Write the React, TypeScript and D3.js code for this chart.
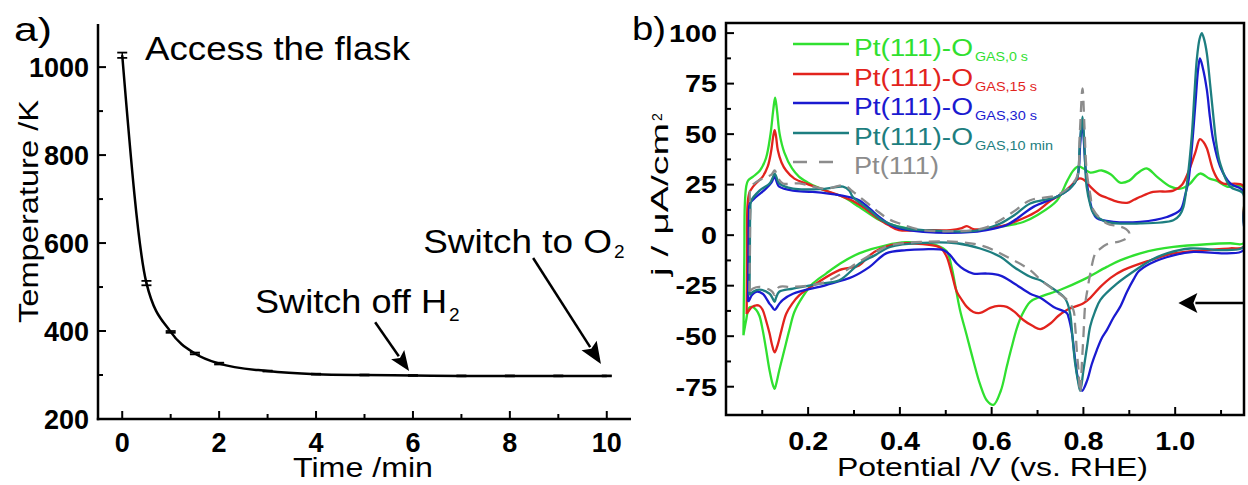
import React from 'react';
import * as d3 from 'd3';

const FONT = "'Liberation Sans', Arial, Helvetica, sans-serif";

// ---------- Panel a data ----------
const timeMin = [0, 0.5, 1, 1.5, 2, 3, 4, 5, 6, 7, 8, 9, 10];
const tempK = [1027, 509, 398, 349, 326, 309, 302, 300, 299, 298, 298, 298, 298];
const tempErr = [6, 5, 2, 2, 2, 1, 1, 1, 1, 1, 1, 1, 1];
const aXTicks = [0, 2, 4, 6, 8, 10];
const aXMinor = [1, 3, 5, 7, 9];
const aYTicks = [200, 400, 600, 800, 1000];
const aYMinor = [300, 500, 700, 900];

// ---------- Panel b data: [potential V, j µA/cm2], closed CV loops ----------
const cv0s: [number, number][] = [
  [0.059, -49.5], [0.061, -10], [0.062, 15], [0.065, 24], [0.069, 27], [0.08, 29], [0.095, 32], [0.108, 38],
  [0.118, 50], [0.124, 62], [0.128, 68], [0.132, 62], [0.138, 50], [0.148, 41], [0.165, 33], [0.18, 29],
  [0.2, 26], [0.217, 24], [0.25, 21], [0.276, 19], [0.311, 14], [0.355, 7.5], [0.385, 5], [0.414, 3.5],
  [0.45, 2], [0.5, 1.5], [0.55, 2], [0.597, 3.5], [0.64, 5], [0.669, 6.5], [0.7, 10], [0.742, 17],
  [0.765, 27], [0.778, 32], [0.789, 34], [0.8, 33], [0.815, 31], [0.84, 32], [0.86, 30], [0.88, 26],
  [0.9, 27], [0.917, 30.5], [0.938, 33], [0.96, 29], [0.99, 24], [1.011, 23], [1.03, 25], [1.054, 30.5],
  [1.075, 28], [1.09, 27], [1.113, 24], [1.148, 24], [1.149, 10], [1.149, -4],
  [1.12, -4], [1.069, -4.5], [0.996, -5.8], [0.96, -7], [0.924, -9], [0.88, -12.5], [0.851, -15.7],
  [0.8, -22], [0.75, -27], [0.706, -30.5], [0.684, -33], [0.665, -40], [0.655, -46], [0.643, -56],
  [0.633, -65], [0.62, -77], [0.604, -84], [0.59, -82], [0.575, -74], [0.56, -62], [0.545, -49],
  [0.531, -37], [0.52, -24], [0.513, -16], [0.502, -8], [0.48, -5], [0.452, -4], [0.414, -3.5],
  [0.37, -5], [0.311, -9], [0.27, -14], [0.239, -19], [0.21, -24], [0.188, -30.5], [0.17, -38],
  [0.159, -47], [0.148, -57], [0.137, -67], [0.13, -74], [0.127, -76], [0.123, -74], [0.116, -67],
  [0.108, -56], [0.101, -47], [0.094, -40], [0.087, -37], [0.078, -35.5], [0.071, -36], [0.065, -42],
  [0.059, -49.5],
];

const cv15s: [number, number][] = [
  [0.066, -39], [0.067, -10], [0.068, 15], [0.072, 21], [0.08, 24], [0.09, 26.5], [0.101, 29], [0.112, 34],
  [0.119, 41], [0.124, 49], [0.127, 52], [0.13, 49], [0.134, 42], [0.142, 36], [0.152, 32], [0.17, 28],
  [0.196, 25.5], [0.239, 22], [0.27, 19.5], [0.297, 17], [0.325, 13], [0.348, 9], [0.375, 5], [0.398, 2.5],
  [0.451, 2.5], [0.51, 2.5], [0.535, 3.5], [0.546, 4.5], [0.56, 3], [0.597, 3.5], [0.63, 5], [0.669, 8.4],
  [0.7, 12], [0.728, 17], [0.75, 20], [0.771, 24], [0.79, 28], [0.8, 27.5], [0.815, 24], [0.835, 20],
  [0.851, 18.5], [0.875, 16.5], [0.895, 16], [0.91, 17.5], [0.924, 19], [0.952, 21.4], [0.996, 22],
  [1.015, 25], [1.03, 32], [1.044, 41], [1.054, 47.5], [1.062, 46], [1.069, 43], [1.083, 32], [1.095, 27],
  [1.105, 25.5], [1.148, 24.5], [1.149, 10], [1.149, -5.8],
  [1.12, -6.5], [1.069, -7.4], [0.996, -9], [0.946, -12.4], [0.887, -17.3], [0.86, -21], [0.837, -25.6],
  [0.815, -31], [0.8, -33.7], [0.764, -37], [0.745, -40], [0.728, -43.7], [0.706, -46.5], [0.69, -45],
  [0.669, -42], [0.65, -38], [0.633, -35.5], [0.615, -35], [0.597, -36], [0.575, -38.5], [0.56, -38],
  [0.546, -35.5], [0.535, -32], [0.524, -28], [0.513, -19], [0.502, -10.7], [0.49, -6.5], [0.48, -5.4],
  [0.415, -4], [0.379, -5], [0.355, -7], [0.334, -10], [0.311, -15], [0.268, -17.3], [0.217, -24],
  [0.181, -29.7], [0.165, -34], [0.152, -39], [0.142, -47], [0.134, -54], [0.127, -58], [0.121, -54],
  [0.116, -48.7], [0.108, -42], [0.101, -37], [0.094, -35], [0.087, -34.7], [0.078, -35.5], [0.072, -37],
  [0.066, -39],
];

const cv30s: [number, number][] = [
  [0.069, -33], [0.07, -10], [0.071, 10], [0.073, 15.7], [0.087, 19], [0.108, 23], [0.12, 26], [0.127, 29],
  [0.132, 26], [0.137, 24], [0.167, 22], [0.21, 21.4], [0.268, 19.8], [0.311, 17.3], [0.335, 13],
  [0.355, 9], [0.38, 5], [0.399, 3.3], [0.451, 1.6], [0.56, 1.6], [0.6, 3], [0.633, 5], [0.66, 9],
  [0.691, 14], [0.742, 19], [0.77, 23], [0.786, 28], [0.793, 45], [0.797, 57], [0.8, 50], [0.805, 32],
  [0.81, 22], [0.82, 12], [0.829, 8.5], [0.865, 6.6], [0.924, 6.6], [0.982, 9], [1.011, 12.4], [1.022, 20],
  [1.029, 27], [1.037, 45], [1.044, 65], [1.05, 82], [1.054, 87.5], [1.06, 83], [1.069, 72], [1.076, 58],
  [1.083, 47], [1.098, 34], [1.12, 25.6], [1.148, 22], [1.149, 8], [1.149, -7.4],
  [1.113, -9], [1.04, -8.3], [0.996, -10], [0.946, -14], [0.92, -18], [0.909, -22], [0.895, -28],
  [0.88, -35.5], [0.865, -41], [0.851, -47], [0.84, -51], [0.829, -57], [0.818, -64], [0.808, -72],
  [0.797, -77], [0.79, -73], [0.786, -68.5], [0.78, -58], [0.775, -48.5], [0.768, -41], [0.764, -38.6],
  [0.735, -35.5], [0.706, -31], [0.684, -29], [0.65, -24], [0.619, -20], [0.59, -19], [0.56, -19],
  [0.54, -17], [0.524, -14], [0.51, -10], [0.495, -7.4], [0.451, -7], [0.414, -7.4], [0.37, -9],
  [0.334, -15.7], [0.297, -20.6], [0.239, -24.7], [0.167, -29], [0.145, -32], [0.137, -34], [0.127, -37],
  [0.12, -35], [0.116, -34], [0.108, -31], [0.101, -29], [0.087, -28], [0.078, -29.5], [0.072, -32],
  [0.069, -33],
];

const cv10min: [number, number][] = [
  [0.072, -29.7], [0.073, -10], [0.074, 12], [0.076, 17], [0.094, 22], [0.116, 25.6], [0.122, 28],
  [0.127, 30.5], [0.132, 28], [0.137, 25.6], [0.167, 23], [0.239, 23], [0.276, 24], [0.29, 22],
  [0.297, 19], [0.334, 12.4], [0.36, 7.5], [0.385, 5], [0.414, 3.3], [0.451, 2.5], [0.56, 2], [0.59, 3.5],
  [0.619, 5.8], [0.65, 10], [0.684, 15.7], [0.742, 19], [0.77, 23], [0.786, 28], [0.792, 45], [0.798, 58.6],
  [0.802, 45], [0.807, 24], [0.815, 15], [0.822, 10.7], [0.851, 6.6], [0.924, 5.8], [0.996, 7.4],
  [1.01, 10], [1.018, 14], [1.027, 28], [1.036, 48.6], [1.042, 70], [1.047, 86.6], [1.053, 97],
  [1.058, 100], [1.063, 97], [1.069, 90], [1.076, 75], [1.084, 57], [1.09, 45], [1.098, 35.5], [1.12, 24],
  [1.148, 20.6], [1.149, 8], [1.149, -5.8],
  [1.113, -7.4], [1.033, -6.6], [0.982, -9], [0.95, -12], [0.924, -15.7], [0.873, -24], [0.837, -32],
  [0.825, -38], [0.815, -45], [0.808, -55], [0.8, -67], [0.793, -77], [0.788, -72], [0.782, -63.5],
  [0.776, -50], [0.771, -38.8], [0.764, -33], [0.757, -30.5], [0.728, -25.6], [0.706, -22.3],
  [0.684, -20.6], [0.65, -16], [0.619, -10.7], [0.575, -6.6], [0.524, -4], [0.451, -3.8], [0.379, -5.8],
  [0.345, -10], [0.312, -14], [0.268, -22.3], [0.225, -24], [0.167, -26.4], [0.137, -28], [0.13, -31],
  [0.127, -33], [0.122, -31], [0.116, -29], [0.094, -27], [0.08, -28], [0.072, -29.7],
];

const cvPt111: [number, number][] = [
  [0.072, -28], [0.073, -10], [0.074, 12], [0.076, 24], [0.101, 28], [0.12, 30], [0.127, 32], [0.135, 28],
  [0.145, 25.6], [0.181, 25.6], [0.239, 23], [0.279, 24.7], [0.295, 22], [0.312, 19], [0.348, 12.4],
  [0.375, 8], [0.399, 5.8], [0.45, 2.5], [0.56, 2.5], [0.59, 4], [0.619, 7.4], [0.65, 12], [0.684, 17.3],
  [0.742, 19.8], [0.77, 24], [0.786, 29], [0.792, 50], [0.798, 72.6], [0.802, 55], [0.807, 32],
  [0.815, 20], [0.822, 12.4], [0.851, 5.8], [0.876, 4.5], [0.893, 3], [0.9, 1], [0.897, -1], [0.88, -3],
  [0.851, -4.5], [0.835, -7], [0.826, -9], [0.815, -19], [0.808, -28], [0.804, -34], [0.8, -50],
  [0.797, -62], [0.793, -78], [0.789, -66], [0.786, -58.6], [0.782, -45], [0.778, -37], [0.764, -32],
  [0.735, -27], [0.706, -22], [0.684, -17.3], [0.633, -10.7], [0.582, -5.4], [0.524, -3.3], [0.451, -3.3],
  [0.379, -5], [0.35, -8], [0.312, -13], [0.239, -23], [0.167, -25.6], [0.137, -25.6], [0.13, -28],
  [0.127, -29.7], [0.122, -28], [0.116, -27], [0.094, -25.6], [0.08, -26.4], [0.072, -28],
];

const seriesNames = ['GAS,0 s', 'GAS,15 s', 'GAS,30 s', 'GAS,10 min', ''];
const seriesColors = ['#30e030', '#e2231d', '#1a1ad0', '#1d7e80', '#8c8c8c'];
const seriesData = [cv0s, cv15s, cv30s, cv10min, cvPt111];
const subLens = [53, 62, 62, 78, 0];

const bXTicks = [0.2, 0.4, 0.6, 0.8, 1.0];
const bXMinor = [0.1, 0.3, 0.5, 0.7, 0.9, 1.1];
const bYTicks = [-75, -50, -25, 0, 25, 50, 75, 100];
const bYMinor = [-62.5, -37.5, -12.5, 12.5, 37.5, 62.5, 87.5];

function boldWidth(s: string, size: number) {
  let w = 0;
  for (const c of s) w += c === '.' ? 0.278 : c === '-' ? 0.333 : 0.556;
  return w * size;
}

function Txt(props: any) {
  const { x, y, size, len, anchor = 'start', weight = 'normal', fill = '#000', rotate = 0, children } = props;
  return (
    <text
      transform={`translate(${x},${y}) rotate(${rotate})`}
      fontSize={size}
      textLength={len}
      lengthAdjust={len ? 'spacingAndGlyphs' : undefined}
      textAnchor={anchor}
      fontWeight={weight}
      fill={fill}
      fontFamily={FONT}
    >
      {children}
    </text>
  );
}

function Arrow({ x1, y1, x2, y2, head = 20, half = 8, sw = 2.5 }: any) {
  const dx = x2 - x1, dy = y2 - y1;
  const L = Math.hypot(dx, dy);
  const ux = dx / L, uy = dy / L;
  const bxp = x2 - ux * head, byp = y2 - uy * head;
  const px = -uy, py = ux;
  return (
    <g>
      <line x1={x1} y1={y1} x2={bxp + ux * 2} y2={byp + uy * 2} stroke="#000" strokeWidth={sw} />
      <polygon
        points={`${x2},${y2} ${bxp + px * half},${byp + py * half} ${bxp + ux * 4},${byp + uy * 4} ${bxp - px * half},${byp - py * half}`}
        fill="#000"
      />
    </g>
  );
}

export default function App() {
  const ax = d3.scaleLinear().domain([-0.5, 10.5]).range([98, 631]);
  const ay = d3.scaleLinear().domain([200, 1098]).range([419, 24]);
  const bx = d3.scaleLinear().domain([0.021, 1.15]).range([726, 1244]);
  const by = d3.scaleLinear().domain([-89, 105]).range([415, 23]);

  const aLine = d3
    .line<number>()
    .x((_, i) => ax(timeMin[i]))
    .y((d) => ay(d))
    .curve(d3.curveMonotoneX);
  const bLine = d3
    .line<[number, number]>()
    .x((d) => bx(d[0]))
    .y((d) => by(d[1]))
    .curve(d3.curveCatmullRom.alpha(0.5));

  const axisW = 2.5;
  const legendY = [44, 74, 103, 133, 162];

  return (
    <svg width={1248} height={485} style={{ position: 'absolute', left: 0, top: 0, background: '#fff' }}>
      <defs>
        <clipPath id="clipB">
          <rect x={726} y={23} width={518} height={392} />
        </clipPath>
      </defs>
      <rect x={0} y={0} width={1248} height={485} fill="#fff" />

      {/* ================= Panel a ================= */}
      <Txt x={14} y={41} size={33} len={38}>a)</Txt>
      {/* axes */}
      <line x1={ax(-0.5)} y1={ay(1098)} x2={ax(-0.5)} y2={ay(200) + 1.2} stroke="#000" strokeWidth={axisW} />
      <line x1={ax(-0.5) - 1.2} y1={ay(200)} x2={ax(10.5)} y2={ay(200)} stroke="#000" strokeWidth={axisW} />
      {aXTicks.map((t) => (
        <g key={'axt' + t}>
          <line x1={ax(t)} x2={ax(t)} y1={ay(200)} y2={ay(200) - 8} stroke="#000" strokeWidth={2} />
          <Txt x={ax(t)} y={452} size={27} weight="bold" anchor="middle">{String(t)}</Txt>
        </g>
      ))}
      {aXMinor.map((t) => (
        <line key={'axm' + t} x1={ax(t)} x2={ax(t)} y1={ay(200)} y2={ay(200) - 5} stroke="#000" strokeWidth={2} />
      ))}
      {aYTicks.map((v) => (
        <g key={'ayt' + v}>
          <line x1={ax(-0.5)} x2={ax(-0.5) + 8} y1={ay(v)} y2={ay(v)} stroke="#000" strokeWidth={2} />
          <Txt x={89} y={ay(v) + 9.5} size={27} weight="bold" anchor="end">{String(v)}</Txt>
        </g>
      ))}
      {aYMinor.map((v) => (
        <line key={'aym' + v} x1={ax(-0.5)} x2={ax(-0.5) + 5} y1={ay(v)} y2={ay(v)} stroke="#000" strokeWidth={2} />
      ))}
      <Txt x={38} y={323} size={27} len={223} rotate={-90}>Temperature /K</Txt>
      <Txt x={293} y={477} size={27} len={140}>Time /min</Txt>

      {/* data line */}
      <path d={aLine(tempK) || ''} fill="none" stroke="#000" strokeWidth={2.5} />
      {tempK.map((v, i) => (
        <g key={'err' + i}>
          <line x1={ax(timeMin[i])} x2={ax(timeMin[i])} y1={ay(v - tempErr[i])} y2={ay(v + tempErr[i])} stroke="#000" strokeWidth={1.5} />
          <line x1={ax(timeMin[i]) - 5} x2={ax(timeMin[i]) + 5} y1={ay(v + tempErr[i])} y2={ay(v + tempErr[i])} stroke="#000" strokeWidth={1.8} />
          <line x1={ax(timeMin[i]) - 5} x2={ax(timeMin[i]) + 5} y1={ay(v - tempErr[i])} y2={ay(v - tempErr[i])} stroke="#000" strokeWidth={1.8} />
        </g>
      ))}

      {/* annotations */}
      <Txt x={ax(0.47)} y={ay(1016)} size={34} len={265}>Access the flask</Txt>
      <Txt x={ax(2.74)} y={ay(441)} size={33} len={192}>Switch off H</Txt>
      <Txt x={449} y={ay(441) + 8} size={19}>2</Txt>
      <Txt x={ax(6.21)} y={ay(577)} size={33} len={189}>Switch to O</Txt>
      <Txt x={614} y={ay(577) + 5} size={19}>2</Txt>
      <Arrow x1={ax(5.22)} y1={ay(420)} x2={ax(5.92)} y2={ay(309)} head={20} half={8} />
      <Arrow x1={ax(8.48)} y1={ay(566)} x2={ax(9.88)} y2={ay(325)} head={22} half={9} />

      {/* ================= Panel b ================= */}
      <Txt x={632} y={40} size={34} len={34}>b)</Txt>
      <g clipPath="url(#clipB)">
        {seriesData.map((d, i) => (
          <path
            key={'cv' + i}
            d={bLine(d) || ''}
            fill="none"
            stroke={seriesColors[i]}
            strokeWidth={2.3}
            strokeDasharray={i === 4 ? '11,7' : undefined}
            strokeLinejoin="round"
          />
        ))}
      </g>
      <rect x={726} y={23} width={518} height={392} fill="none" stroke="#000" strokeWidth={axisW} />
      {bXTicks.map((t) => (
        <g key={'bxt' + t}>
          <line x1={bx(t)} x2={bx(t)} y1={415} y2={407} stroke="#000" strokeWidth={2} />
          <Txt x={bx(t)} y={450} size={25} weight="bold" anchor="middle" len={boldWidth(t.toFixed(1), 25) * 1.15}>
            {t.toFixed(1)}
          </Txt>
        </g>
      ))}
      {bXMinor.map((t) => (
        <line key={'bxm' + t} x1={bx(t)} x2={bx(t)} y1={415} y2={410} stroke="#000" strokeWidth={2} />
      ))}
      {bYTicks.map((v) => (
        <g key={'byt' + v}>
          <line x1={726} x2={734} y1={by(v)} y2={by(v)} stroke="#000" strokeWidth={2} />
          <Txt x={717} y={by(v) + 8.8} size={24} weight="bold" anchor="end" len={boldWidth(String(v), 24) * 1.2}>
            {String(v)}
          </Txt>
        </g>
      ))}
      {bYMinor.map((v) => (
        <line key={'bym' + v} x1={726} x2={731} y1={by(v)} y2={by(v)} stroke="#000" strokeWidth={2} />
      ))}
      <Txt x={668} y={276} size={24} len={153} rotate={-90}>j  /  μA/cm</Txt>
      <g transform="translate(662,121) rotate(-90)">
        <text fontSize={14} fontFamily={FONT}>2</text>
      </g>
      <Txt x={837} y={476} size={26} len={311}>Potential /V (vs. RHE)</Txt>

      {/* legend */}
      {seriesColors.map((c, i) => (
        <g key={'leg' + i}>
          <line
            x1={793}
            x2={i === 4 ? 834 : 849}
            y1={legendY[i]}
            y2={legendY[i]}
            stroke={c}
            strokeWidth={2.5}
            strokeDasharray={i === 4 ? '14,12' : undefined}
          />
          {i < 4 ? (
            <>
              <Txt x={854} y={legendY[i] + 12} size={23} len={119} fill={c}>Pt(111)-O</Txt>
              <Txt x={975} y={legendY[i] + 17} size={13} len={subLens[i]} fill={c}>{seriesNames[i]}</Txt>
            </>
          ) : (
            <Txt x={854} y={legendY[i] + 12} size={23} len={85} fill={c}>Pt(111)</Txt>
          )}
        </g>
      ))}

      {/* scan direction arrow */}
      <Arrow x1={bx(1.148)} y1={by(-33.6)} x2={bx(1.007)} y2={by(-33.6)} head={19} half={10} />
    </svg>
  );
}
